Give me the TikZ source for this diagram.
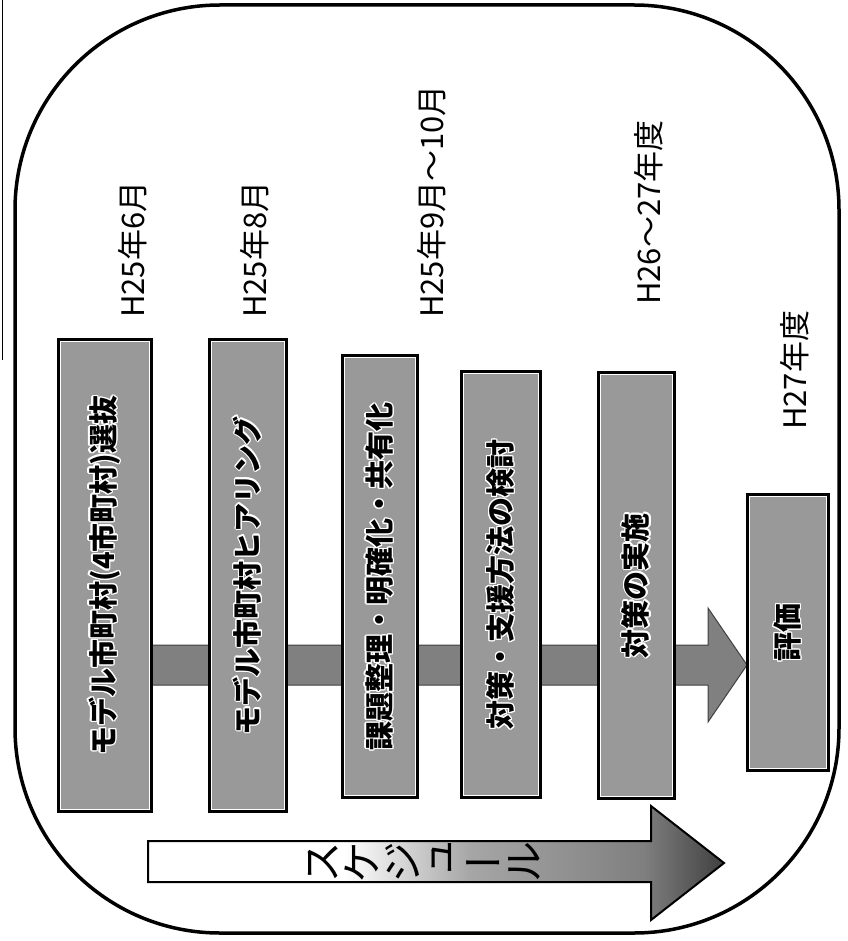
\documentclass[tikz,border=0pt]{standalone}
\usepackage{fontspec}
\setmainfont{Noto Sans CJK JP}
\newfontfamily\vertjp[RawFeature=+vert]{Noto Sans CJK JP}
\usepackage[copies]{contour}
\contourlength{1.3pt}
\usetikzlibrary{positioning}
\pgfdeclarehorizontalshading{schedule shade}{100bp}{color(0bp)=(white); color(42bp)=(white); color(53bp)=(black!35); color(68bp)=(black!50); color(75bp)=(black!75); color(100bp)=(black!75)}
\tikzset{stage/.style={draw,line width=3pt,fill=black!40,rotate=90,inner sep=0pt,
             font=\bfseries\fontsize{29}{29}\selectfont,
             path picture={\draw[white,line width=5pt] (path picture bounding box.south west) rectangle (path picture bounding box.north east);}},
         when/.style={rotate=90,anchor=west,inner sep=0pt,font=\fontsize{31}{31}\selectfont},
            }

\begin{document}
\begin{tikzpicture}[x=1pt,y=-1pt]
    \useasboundingbox (0,0) rectangle (847,941);
    \draw[line width=1pt] (2,0) -- (2,360);
    \draw[line width=3.5pt,rounded corners=205pt] (15,5) rectangle (839,933);

    \draw[fill=black!50,draw=black!75,line width=1pt]
    (100,645) -- (708,645) -- (708,608) -- (747,665) -- (708,722) -- (708,685) -- (100,685) -- cycle;

    \node[stage,minimum width=472,minimum height=93] (s1) at (105,575.5) {\contour{white}{モデル市町村(4市町村)選抜}};
    \node[stage,minimum width=472,minimum height=77] (s2) at (248,575.5) {\contour{white}{モデル市町村ヒアリング}};
    \node[stage,minimum width=442,minimum height=75] (s3) at (380,576.5) {\contour{white}{課題整理・明確化・共有化}};
    \node[stage,minimum width=426,minimum height=79] (s4) at (501,584.5) {\contour{white}{対策・支援方法の検討}};
    \node[stage,minimum width=426,minimum height=76] (s5) at (636.5,585.5) {\contour{white}{対策の実施}};
    \node[stage,minimum width=276,minimum height=81] (s6) at (788,632.5) {\contour{white}{評価}};

    \node[when] (t1) at (133,318) {H25年6月};
    \node[when] (t2) at (255,318) {H25年8月};
    \node[when] (t3) at (432,318) {H25年9月～10月};
    \node[when] (t4) at (649,305) {H26～27年度};
    \node[when] (t5) at (795,430) {H27年度};

    \draw[shading=schedule shade,draw=black,line width=2pt]
    (148,841) -- (651,841) -- (651,806) -- (724,863) -- (651,920) -- (651,882) -- (148,882) -- cycle;
    \begin{scope}
    \clip (148,841) rectangle (651,884);
    \node[rotate=90,align=center,inner sep=0pt,font=\vertjp\fontsize{42}{40.5}\selectfont] (sched) at (424,862) {ス\\ケ\\ジ\\ュ\\ー\\ル};
    \end{scope}
\end{tikzpicture}
\end{document}
